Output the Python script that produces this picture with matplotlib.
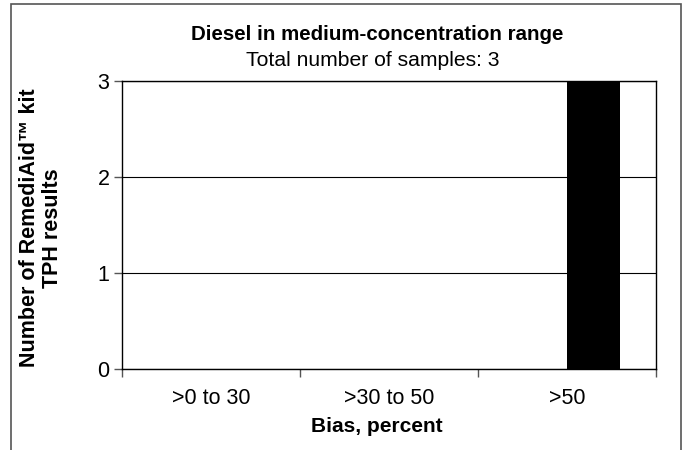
import numpy as np
import matplotlib.pyplot as plt
from matplotlib.patches import Rectangle

# -------- DATA --------
categories = [">0 to 30", ">30 to 50", ">50"]
counts_a = [0, 0, 0]
counts_b = [0, 0, 3]
y_ticks = [0, 1, 2, 3]

# -------- PLOT --------
plt.rcParams['font.family'] = ['Liberation Sans', 'DejaVu Sans']

W, H = 688, 450
fig = plt.figure(figsize=(W / 100, H / 100), dpi=100)
ax = fig.add_axes([122 / W, 1 - 369 / H, (656 - 122) / W, (369 - 81) / H])

# outer chart border (runs off the bottom edge)
fig.patches.append(Rectangle((11 / W, -0.05), (681 - 11) / W, 1 - 4 / H + 0.05,
                             transform=fig.transFigure, fill=False,
                             edgecolor='#555555', linewidth=1.2))

x = np.arange(len(categories))
bw = 0.3
ax.bar(x - bw / 2, counts_a, width=bw, color='black', zorder=3)
ax.bar(x + bw / 2, counts_b, width=bw, color='black', zorder=3)

ax.set_xlim(-0.5, len(categories) - 0.5)
ax.set_ylim(0, 3)
ax.set_yticks(y_ticks)
ax.set_xticks(np.arange(len(categories) + 1) - 0.5)
ax.set_xticklabels([])
ax.set_xticks(x, minor=True)
ax.set_xticklabels(categories, minor=True)
ax.tick_params(axis='x', which='minor', length=0, labelsize=15.5, pad=14)
ax.tick_params(axis='x', which='major', length=6, width=1, color='#555555')
ax.tick_params(axis='y', length=6, width=1, labelsize=15.5, pad=3, color='#555555')

ax.yaxis.grid(True, color='black', linewidth=0.8, zorder=0)
for s in ax.spines.values():
    s.set_color('black')
    s.set_linewidth(1)

fig.text(377 / W, 1 - 427 / H, "Bias, percent", ha='center', va='center',
         fontsize=15, fontweight='bold')
fig.text(41 / W, 1 - 228 / H, "Number of RemediAid\u2122 kit\nTPH results",
         ha='center', va='center', rotation=90, multialignment='center',
         fontsize=15.5, fontweight='bold', linespacing=1.1,
         rotation_mode='anchor')

fig.text(377 / W, 1 - 34 / H, "Diesel in medium-concentration range",
         ha='center', va='center', fontsize=14.8, fontweight='bold')
fig.text(373 / W, 1 - 61 / H, "Total number of samples: 3",
         ha='center', va='center', fontsize=15.2)

fig.savefig("out.png", dpi=100)
